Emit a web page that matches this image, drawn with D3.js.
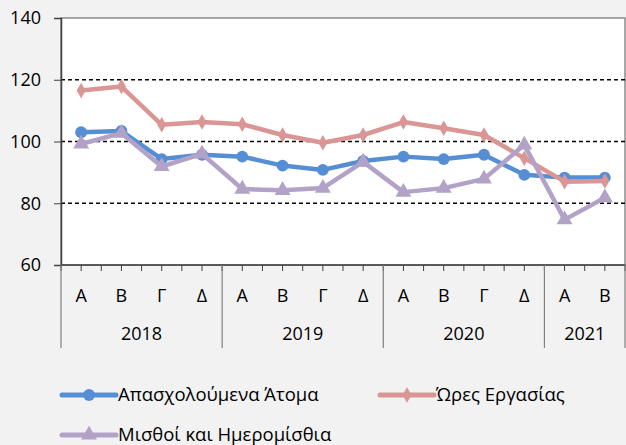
<!DOCTYPE html>
<html>
<head>
<meta charset="utf-8">
<script src="https://cdn.jsdelivr.net/npm/d3@7"></script>
<style>
  body { margin: 0; background: #f2f2f2; }
  svg { display: block; font-family: "Open Sans", "Noto Sans", sans-serif; }
</style>
</head>
<body>
<div id="chart"></div>
<script>
// quarters and years
var quarters = ["Α", "Β", "Γ", "Δ", "Α", "Β", "Γ", "Δ", "Α", "Β", "Γ", "Δ", "Α", "Β"];
var years = ["2018", "2019", "2020", "2021"];
var yearSpan = [4, 4, 4, 2];

// series (index values)
var employed = [103.0, 103.4, 94.3, 95.7, 95.1, 92.2, 90.8, 93.7, 95.1, 94.3, 95.7, 89.2, 88.3, 88.3];
var hours = [116.5, 117.8, 105.4, 106.3, 105.6, 102.1, 99.6, 102.1, 106.3, 104.3, 102.1, 94.6, 87.0, 87.2];
var wages = [99.2, 102.7, 91.9, 96.0, 84.6, 84.2, 84.9, 93.4, 83.6, 84.9, 87.9, 98.9, 74.7, 81.8];

var yTicks = [60, 80, 100, 120, 140];
var seriesNames = ["Απασχολούμενα Άτομα", "Ώρες Εργασίας", "Μισθοί και Ημερομίσθια"];

var width = 626, height = 445;
var plotL = 61, plotR = 625, plotT = 18, plotB = 265;

var svg = d3.select("#chart").append("svg")
    .attr("width", width)
    .attr("height", height);

var x = d3.scaleLinear().domain([0, quarters.length]).range([plotL, plotR]);
var y = d3.scaleLinear().domain([60, 140]).range([plotB, plotT]);

// plot area
svg.append("rect")
    .attr("x", plotL).attr("y", plotT)
    .attr("width", plotR - plotL).attr("height", plotB - plotT)
    .attr("fill", "white")
    .attr("stroke", "#8c8c8c")
    .attr("stroke-width", 1.5);

// dashed gridlines
svg.append("g").selectAll("line")
    .data([80, 100, 120])
    .enter().append("line")
    .attr("x1", plotL).attr("x2", plotR)
    .attr("y1", function(d){ return y(d); })
    .attr("y2", function(d){ return y(d); })
    .attr("stroke", "black")
    .attr("stroke-width", 1.5)
    .attr("stroke-dasharray", "4,3");

// y axis
var yAxis = svg.append("g")
    .attr("transform", "translate(" + plotL + ",0)")
    .call(d3.axisLeft(y).tickValues(yTicks).tickSize(7).tickPadding(13));
yAxis.select(".domain").attr("stroke", "#404040").attr("stroke-width", 1.5);
yAxis.selectAll(".tick line").attr("stroke", "#404040");
yAxis.selectAll("text").attr("font-size", 18).attr("fill", "black")
    .attr("font-family", "Open Sans, sans-serif");

// x axis line with half-category ticks
svg.append("line")
    .attr("x1", plotL).attr("x2", plotR)
    .attr("y1", plotB).attr("y2", plotB)
    .attr("stroke", "#404040").attr("stroke-width", 1.5);
svg.append("g").selectAll("line")
    .data(d3.range(0, quarters.length + 0.5, 0.5))
    .enter().append("line")
    .attr("x1", function(d){ return x(d); })
    .attr("x2", function(d){ return x(d); })
    .attr("y1", plotB).attr("y2", plotB + 6)
    .attr("stroke", "#404040").attr("stroke-width", 1);

// quarter labels
svg.append("g").selectAll("text")
    .data(quarters)
    .enter().append("text")
    .attr("x", function(d, i){ return x(i + 0.5); })
    .attr("y", 302)
    .attr("text-anchor", "middle")
    .attr("font-size", 18)
    .text(function(d){ return d; });

// year group separators and labels
var starts = [0];
yearSpan.forEach(function(s, i){ starts.push(starts[i] + s); });
svg.append("g").selectAll("line")
    .data(starts)
    .enter().append("line")
    .attr("x1", function(d){ return x(d); })
    .attr("x2", function(d){ return x(d); })
    .attr("y1", plotB).attr("y2", 348)
    .attr("stroke", "#7f7f7f").attr("stroke-width", 1.2);
svg.append("g").selectAll("text")
    .data(years)
    .enter().append("text")
    .attr("x", function(d, i){ return x(starts[i] + yearSpan[i] / 2); })
    .attr("y", 340)
    .attr("text-anchor", "middle")
    .attr("font-size", 18)
    .text(function(d){ return d; });

// series
var colors = ["#558ed5", "#d99694", "#b3a2c7"];
var allData = [employed, hours, wages];
var symbols = [d3.symbolCircle, d3.symbolDiamond, d3.symbolTriangle];
var symSize = [110, 70, 110];

var line = d3.line()
    .x(function(d, i){ return x(i + 0.5); })
    .y(function(d){ return y(d); });

allData.forEach(function(vals, k){
    svg.append("path")
        .datum(vals)
        .attr("d", line)
        .attr("fill", "none")
        .attr("stroke", colors[k])
        .attr("stroke-width", 4.5)
        .attr("stroke-linejoin", "round");
    svg.append("g").selectAll("path")
        .data(vals)
        .enter().append("path")
        .attr("transform", function(d, i){ return "translate(" + x(i + 0.5) + "," + y(d) + ")"; })
        .attr("d", d3.symbol().type(symbols[k]).size(symSize[k]))
        .attr("fill", colors[k]);
});

// legend
var legendPos = [[62, 395], [380, 395], [62, 435]];
seriesNames.forEach(function(name, k){
    var g = svg.append("g").attr("transform", "translate(" + legendPos[k][0] + "," + legendPos[k][1] + ")");
    g.append("line").attr("x1", 0).attr("x2", 54).attr("y1", 0).attr("y2", 0)
        .attr("stroke", colors[k]).attr("stroke-width", 5).attr("stroke-linecap", "round");
    g.append("path").attr("transform", "translate(27,0)")
        .attr("d", d3.symbol().type(symbols[k]).size(symSize[k]))
        .attr("fill", colors[k]);
    g.append("text").attr("x", 56).attr("y", 6)
        .attr("font-size", 18.5)
        .text(name);
});
</script>
</body>
</html>
